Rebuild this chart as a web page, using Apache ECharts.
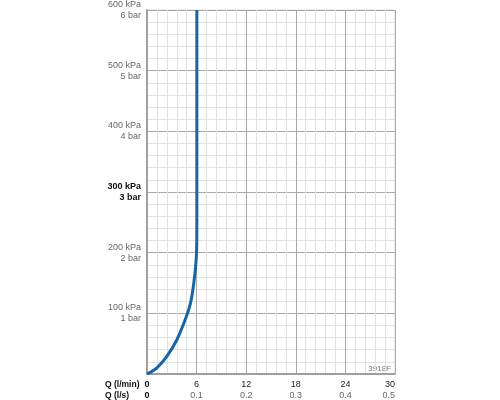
<!DOCTYPE html>
<html>
<head>
<meta charset="utf-8">
<script src="https://cdn.jsdelivr.net/npm/echarts@6/dist/echarts.min.js"></script>
<style>
  html, body { margin: 0; padding: 0; background: #fff; }
  #chart { width: 500px; height: 400px; }
</style>
</head>
<body>
<div id="chart"></div>
<script>
// flow (l/min) vs pressure (kPa)
let flowLmin = [0, 0.5, 1.2, 2.4, 3.6, 4.6, 5.25, 5.65, 5.94, 6.02, 6.03, 6.03]
let pressureKpa = [0, 3.5, 10, 29, 56, 89, 116, 149, 187, 220, 260, 600]

let xTicks = [0, 6, 12, 18, 24, 30]
let xTicksLs = ['0', '0.1', '0.2', '0.3', '0.4', '0.5']
let yTicks = [100, 200, 300, 400, 500, 600]
let yTicksBar = ['1 bar', '2 bar', '3 bar', '4 bar', '5 bar', '6 bar']

let curve = flowLmin.map(function(x, i) { return [x, pressureKpa[i]] })

let myChart = echarts.init(document.getElementById('chart'))
let font = 'Liberation Sans, Arial, sans-serif'

myChart.setOption({
    animation: false,
    grid: { left: 147, right: 105, top: 8, bottom: 26, show: true, borderColor: '#ddd', borderWidth: 1 },
    xAxis: {
        type: 'value',
        min: 0, max: 30, interval: 6,
        axisLine: { show: true, lineStyle: { color: '#a0a0a0', width: 2 } },
        axisTick: { show: false },
        splitLine: { show: true, lineStyle: { color: '#a8a8a8', width: 1 } },
        minorTick: { show: false, splitNumber: 5 },
        minorSplitLine: { show: true, lineStyle: { color: '#e2e2e2', width: 1 } },
        axisLabel: {
            margin: 5,
            alignMaxLabel: 'right',
            fontFamily: font,
            formatter: function(v) {
                let i = xTicks.indexOf(v)
                if (i < 0) return ''
                if (i === 0) return '{z|0}\n{z|0}'
                return '{a|' + v + '}\n{b|' + xTicksLs[i] + '}'
            },
            rich: {
                z: { fontSize: 9, fontWeight: 'bold', color: '#111', lineHeight: 11, fontFamily: font },
                a: { fontSize: 9, color: '#222', lineHeight: 11, fontFamily: font },
                b: { fontSize: 9, color: '#666', lineHeight: 11, fontFamily: font }
            }
        }
    },
    yAxis: {
        type: 'value',
        min: 0, max: 600, interval: 100,
        axisLine: { show: true, lineStyle: { color: '#a0a0a0', width: 2 } },
        axisTick: { show: false },
        splitLine: { show: true, lineStyle: { color: '#a8a8a8', width: 1 } },
        minorTick: { show: false, splitNumber: 5 },
        minorSplitLine: { show: true, lineStyle: { color: '#e2e2e2', width: 1 } },
        axisLabel: {
            margin: 6,
            fontFamily: font,
            formatter: function(v) {
                let i = yTicks.indexOf(v)
                if (i < 0) return ''
                let k = v === 300 ? 'h' : 'n'
                return '{' + k + '|' + v + ' kPa}\n{' + k + '|' + yTicksBar[i] + '}'
            },
            rich: {
                n: { fontSize: 9, color: '#666', lineHeight: 11, align: 'right', fontFamily: font },
                h: { fontSize: 9, color: '#111', fontWeight: 'bold', lineHeight: 11, align: 'right', fontFamily: font }
            }
        }
    },
    graphic: [
        {
            type: 'text', left: 105, top: 379,
            style: { text: 'Q (l/min)\nQ (l/s)', fill: '#111', font: 'bold 8.5px ' + font, lineHeight: 11 }
        },
        {
            type: 'text', right: 109, top: 365,
            style: { text: '3918F', fill: '#777', font: '8px ' + font, align: 'right' }
        }
    ],
    series: [{
        type: 'line',
        data: curve,
        smooth: 0.4,
        symbol: 'none',
        lineStyle: { color: '#1565a8', width: 3 },
        z: 5
    }]
})
</script>
</body>
</html>
